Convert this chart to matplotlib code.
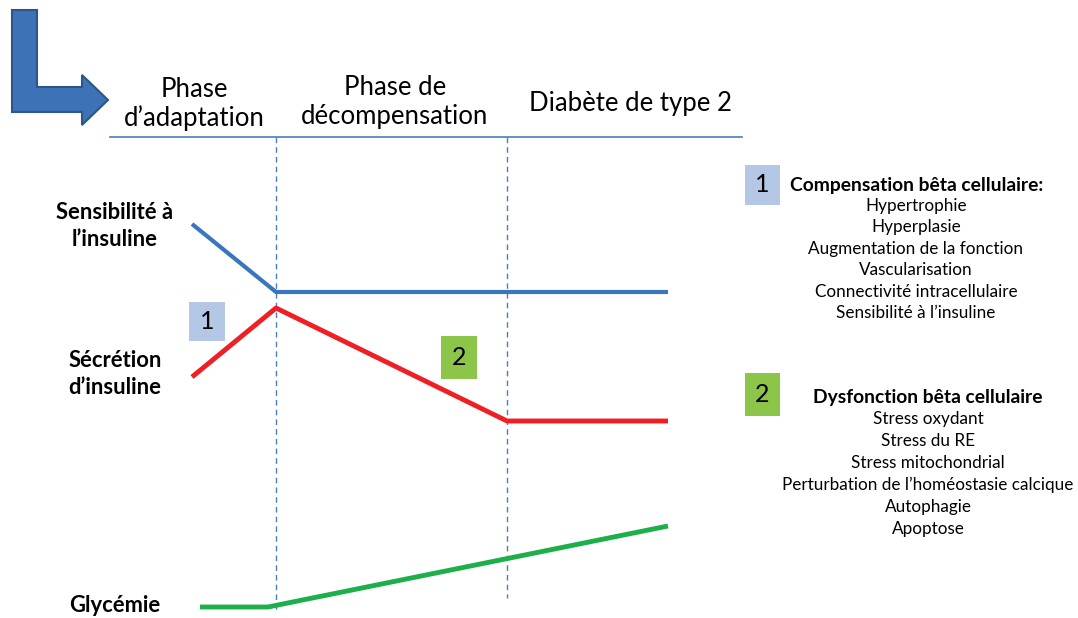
import matplotlib.pyplot as plt
from matplotlib.patches import Polygon, Rectangle

plt.rcParams['font.family'] = ['Lato', 'DejaVu Sans']

# phase boundaries (pixel x) and header texts
phase_x = [276, 507]
phase_labels = ["Phase\nd\u2019adaptation", "Phase de\nd\u00e9compensation", "Diab\u00e8te de type 2"]
phase_label_x = [194, 395, 630]
phase_label_y = [104, 102, 104]

# curves, in pixel coordinates of the slide
sens_x = [192, 276, 668]
sens_y = [224, 292, 292]
secr_x = [192, 276, 507, 668]
secr_y = [377, 308, 421, 421]
glyc_x = [200, 268, 668]
glyc_y = [607, 607, 526]

row_labels = ["Sensibilit\u00e9 \u00e0\nl\u2019insuline", "S\u00e9cr\u00e9tion\nd\u2019insuline", "Glyc\u00e9mie"]
row_label_y = [226, 374, 606]

comp_title = "Compensation b\u00eata cellulaire:"
comp_items = ["Hypertrophie", "Hyperplasie", "Augmentation de la fonction",
              "Vascularisation", "Connectivit\u00e9 intracellulaire",
              "Sensibilit\u00e9 \u00e0 l\u2019insuline"]
dys_title = "Dysfonction b\u00eata cellulaire"
dys_items = ["Stress oxydant", "Stress du RE", "Stress mitochondrial",
             "Perturbation de l\u2019hom\u00e9ostasie calcique", "Autophagie", "Apoptose"]

fig = plt.figure(figsize=(10.78, 6.18), dpi=100)
ax = fig.add_axes([0, 0, 1, 1])
ax.set_xlim(0, 1078)
ax.set_ylim(618, 0)
ax.axis('off')

# L shaped arrow
arrow = [(12, 10), (37, 10), (37, 87), (82, 87), (82, 75), (108, 100),
         (82, 125), (82, 112), (12, 112)]
ax.add_patch(Polygon(arrow, closed=True, fc='#3d72b6', ec='#2c5688', lw=1.5))

# header
ax.plot([110, 742], [137, 137], color='#4a7ebf', lw=1.2)
for lx, ly, t in zip(phase_label_x, phase_label_y, phase_labels):
    ax.text(lx, ly, t, ha='center', va='center', fontsize=18.5, linespacing=1.2)

ax.plot([phase_x[0]] * 2, [137, 612], color='#4a7ebf', lw=1, ls=(0, (4, 3)))
ax.plot([phase_x[1]] * 2, [137, 598], color='#4a7ebf', lw=1, ls=(0, (4, 3)))

ax.plot(sens_x, sens_y, color='#3a76bd', lw=3, solid_capstyle='butt')
ax.plot(secr_x, secr_y, color='#ee1f25', lw=3.5, solid_capstyle='butt')
ax.plot(glyc_x, glyc_y, color='#1db04a', lw=3.5, solid_capstyle='butt')

for ly, t in zip(row_label_y, row_labels):
    ax.text(115, ly, t, ha='center', va='center', fontsize=15.8, fontweight='bold',
            linespacing=1.3)


def num_box(x0, y0, w, h, color, label):
    ax.add_patch(Rectangle((x0, y0), w, h, fc=color, ec='none'))
    ax.text(x0 + w / 2, y0 + h / 2, label, ha='center', va='center', fontsize=18)


num_box(189, 302, 36, 39, '#b4c7e4', '1')
num_box(441, 336, 36, 43, '#8dc44a', '2')
num_box(745, 165, 35, 40, '#b4c7e4', '1')
num_box(745, 373, 35, 43, '#8dc44a', '2')

ax.text(790, 185, comp_title, ha='left', va='center', fontsize=13.9, fontweight='bold')
for i, t in enumerate(comp_items):
    ax.text(916, 206 + i * 21.4, t, ha='center', va='center', fontsize=12.3)

ax.text(928, 397, dys_title, ha='center', va='center', fontsize=13.9, fontweight='bold')
for i, t in enumerate(dys_items):
    ax.text(928, 419 + i * 22, t, ha='center', va='center', fontsize=12.3)

fig.savefig('out.png', dpi=100)
